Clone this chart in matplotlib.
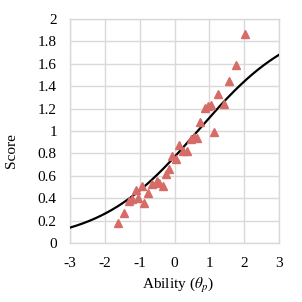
"""Item characteristic curve with observed scores."""

import numpy as np
import matplotlib
matplotlib.use("Agg")
import matplotlib.pyplot as plt

plt.rcParams["font.family"] = ["Liberation Serif", "DejaVu Serif"]
plt.rcParams["mathtext.fontset"] = "stix"

ability = [-1.61, -1.46, -1.31, -1.23, -1.11, -1.06, -0.94, -0.87, -0.75,
           -0.64, -0.51, -0.45, -0.33, -0.24, -0.15, -0.06, 0.05, 0.14,
           0.25, 0.35, 0.47, 0.57, 0.65, 0.73, 0.86, 0.95, 1.05, 1.12,
           1.25, 1.41, 1.57, 1.77, 2.02]
score = [0.18, 0.27, 0.38, 0.39, 0.47, 0.40, 0.51, 0.36, 0.45,
         0.53, 0.55, 0.54, 0.51, 0.62, 0.66, 0.78, 0.75, 0.88,
         0.82, 0.82, 0.93, 0.95, 0.94, 1.08, 1.21, 1.22, 1.23, 0.99,
         1.33, 1.24, 1.45, 1.59, 1.87]

# model curve parameters (max score, discrimination, location)
max_score = 2.0
discrimination = 0.71
location = 0.66

x_ticks = [-3, -2, -1, 0, 1, 2, 3]
y_ticks = [0, 0.2, 0.4, 0.6, 0.8, 1, 1.2, 1.4, 1.6, 1.8, 2]

grid_color = "#d9d9d9"

fig = plt.figure(figsize=(3.02, 3.02), dpi=100)
ax = fig.add_axes([0.232, 0.195, 0.692, 0.742])

theta = np.linspace(-3, 3, 300)
curve = max_score / (1 + np.exp(-discrimination * (theta - location)))
ax.plot(theta, curve, color="black", lw=1.6, zorder=3)
ax.plot(ability, score, ls="none", marker="^", ms=5.5, color="#d66b67",
        zorder=4)

ax.set_xlim(-3, 3)
ax.set_ylim(0, 2)
ax.set_xticks(x_ticks)
ax.set_yticks(y_ticks)
ax.set_xticklabels([str(t) for t in x_ticks])
ax.set_yticklabels(["0", "0.2", "0.4", "0.6", "0.8", "1", "1.2", "1.4",
                    "1.6", "1.8", "2"])
ax.tick_params(length=0, labelsize=11)
ax.tick_params(axis="y", pad=9.5)
ax.tick_params(axis="x", pad=10)
ax.grid(True, color=grid_color, lw=1)
ax.set_axisbelow(True)
for sp in ax.spines.values():
    sp.set_color(grid_color)
    sp.set_linewidth(1)

ax.set_ylabel("Score", fontsize=11)
ax.yaxis.set_label_coords(-0.25, 0.415)
ax.set_xlabel(r"Ability ($\theta_p$)", fontsize=11)
ax.xaxis.set_label_coords(0.515, -0.145)

fig.savefig("out.png", dpi=100)
